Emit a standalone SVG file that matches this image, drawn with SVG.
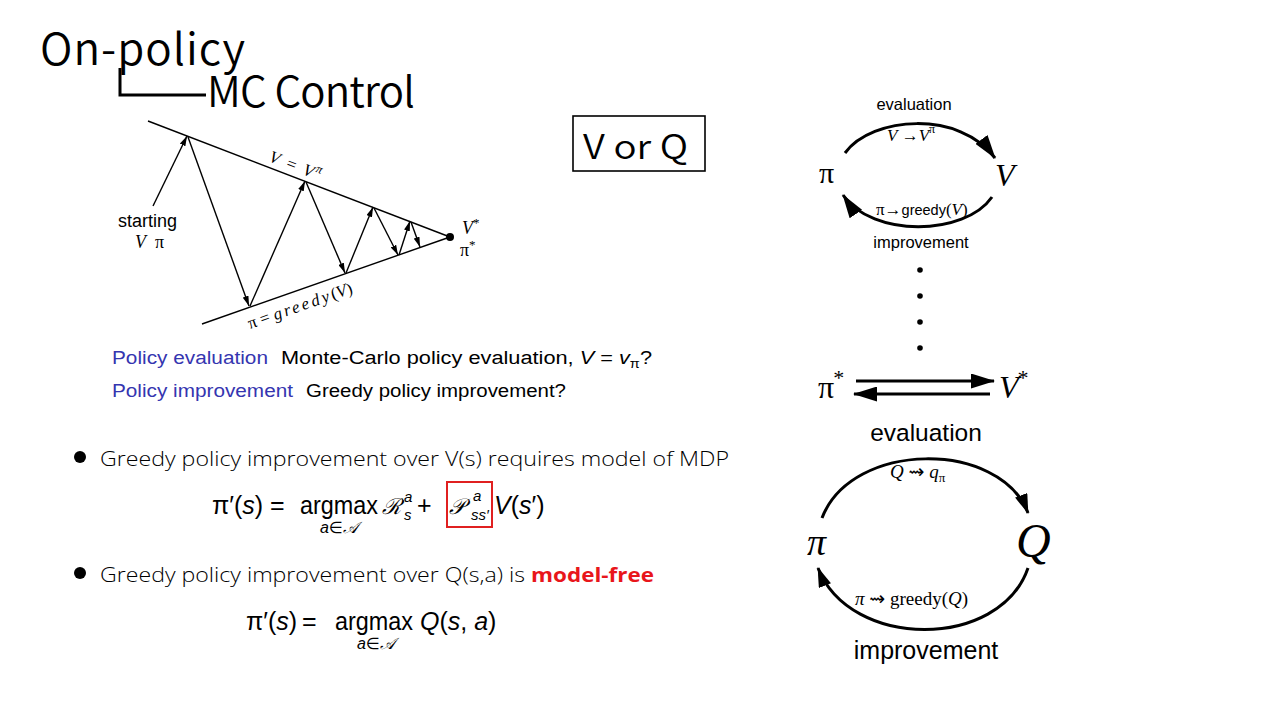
<svg xmlns="http://www.w3.org/2000/svg" width="1280" height="720" viewBox="0 0 1280 720">
  <style>
    .title { font-family: "Noto Sans CJK SC", "Noto Sans", sans-serif; font-weight: 350; fill: #000; }
    .body { font-family: "Open Sans", "Noto Sans", sans-serif; font-weight: 300; fill: #000; font-size: 20px; }
    .cm { font-family: "Liberation Sans", "DejaVu Sans", sans-serif; fill: #000; }
    .blue { fill: #3535B0; }
    .ser { font-family: "Liberation Serif", "DejaVu Serif", serif; fill: #000; }
    .it { font-style: italic; }
    .hel { font-family: "Liberation Sans", Arial, sans-serif; fill: #000; }
    .thin { stroke: #000; stroke-width: 1.4; fill: none; }
    .thick { stroke: #000; stroke-width: 3; fill: none; }
  </style>
  <defs>
    <marker id="ah-sm" viewBox="0 0 10 6" refX="10" refY="3" markerWidth="10" markerHeight="6" markerUnits="userSpaceOnUse" orient="auto">
      <path d="M0,0 L10,3 L0,6 z" fill="#000"/>
    </marker>
    <marker id="ah-lg" viewBox="0 0 24 15" refX="23" refY="7.5" markerWidth="24" markerHeight="15" markerUnits="userSpaceOnUse" orient="auto">
      <path d="M0,0 L24,7.5 L0,15 z" fill="#000"/>
    </marker>
    <marker id="ah-md" viewBox="0 0 20 13" refX="19" refY="6.5" markerWidth="20" markerHeight="13" markerUnits="userSpaceOnUse" orient="auto">
      <path d="M0,0 L20,6.5 L0,13 z" fill="#000"/>
    </marker>
  </defs>

  <rect width="1280" height="720" fill="#fff"/>

  <!-- heading -->
  <g id="heading">
    <text class="title" x="40" y="65" font-size="44" textLength="205" lengthAdjust="spacing">On-policy</text>
    <path d="M120,68 V95 H206" stroke="#000" stroke-width="3" fill="none"/>
    <text class="title" x="207" y="107" font-size="42" textLength="208" lengthAdjust="spacing">MC Control</text>
  </g>

  <!-- convergence triangle -->
  <g id="triangle">
    <line class="thin" x1="148" y1="121" x2="450" y2="237"/>
    <line class="thin" x1="202" y1="324" x2="450" y2="237"/>
    <circle cx="450" cy="237" r="4" fill="#000"/>
    <g class="thin" marker-end="url(#ah-sm)">
      <line x1="153" y1="206" x2="187" y2="136"/>
      <line x1="188" y1="137" x2="249" y2="306"/>
      <line x1="250" y1="306" x2="305" y2="181"/>
      <line x1="306" y1="182" x2="345" y2="273"/>
      <line x1="346" y1="273" x2="373" y2="207"/>
      <line x1="374" y1="208" x2="398" y2="255"/>
      <line x1="399" y1="255" x2="410" y2="221"/>
      <line x1="411" y1="222" x2="420" y2="247"/>
    </g>
    <text class="ser it" x="268" y="161" font-size="17" transform="rotate(21 268 161)" letter-spacing="1.5">V = V<tspan font-size="12" dy="-7">π</tspan></text>
    <text class="ser" x="250" y="329" font-size="17" transform="rotate(-19.3 250 329)">π = <tspan class="it" letter-spacing="2.6">greedy</tspan>(<tspan class="it">V</tspan>)</text>
    <text class="hel" x="118" y="227" font-size="18">starting</text>
    <text class="ser it" x="135" y="248" font-size="18">V</text>
    <text class="ser" x="155" y="248" font-size="18">π</text>
    <text class="ser it" x="462" y="234" font-size="18">V<tspan font-size="13" dy="-7" font-style="normal">*</tspan></text>
    <text class="ser" x="460" y="256" font-size="18">π<tspan font-size="13" dy="-7">*</tspan></text>
  </g>

  <!-- policy evaluation / improvement lines -->
  <g id="policy-steps" font-size="18">
    <text class="cm blue" x="112" y="364" textLength="156" lengthAdjust="spacingAndGlyphs">Policy evaluation</text>
    <text class="cm" x="281" y="364" textLength="371" lengthAdjust="spacingAndGlyphs">Monte-Carlo policy evaluation, <tspan class="it">V</tspan> = <tspan class="it">v</tspan><tspan font-size="12" dy="4">π</tspan><tspan dy="-4">?</tspan></text>
    <text class="cm blue" x="112" y="397" textLength="181" lengthAdjust="spacingAndGlyphs">Policy improvement</text>
    <text class="cm" x="306" y="397" textLength="260" lengthAdjust="spacingAndGlyphs">Greedy policy improvement?</text>
  </g>

  <!-- V or Q box -->
  <g id="v-or-q">
    <rect x="573" y="116" width="132" height="55" fill="#fff" stroke="#000" stroke-width="1.6"/>
    <text class="title" x="583" y="159" font-size="34" textLength="105" lengthAdjust="spacingAndGlyphs">V or Q</text>
  </g>

  <!-- bullet 1 with formula -->
  <g id="bullet-v">
    <circle cx="80" cy="457" r="6" fill="#000"/>
    <text class="body" x="100" y="466" textLength="629" lengthAdjust="spacingAndGlyphs">Greedy policy improvement over V(s) requires model of MDP</text>
    <g class="cm" font-size="25">
      <text x="212" y="514">π′(<tspan class="it">s</tspan>)</text>
      <text x="270" y="514">=</text>
      <text x="300" y="514" textLength="78" lengthAdjust="spacingAndGlyphs">argmax</text>
      <text x="320" y="533" font-size="16"><tspan class="it">a</tspan>∈<tspan class="ser it">𝒜</tspan></text>
      <text class="ser it" x="382" y="514" font-size="22">ℛ</text>
      <text class="it" x="404" y="502" font-size="15">a</text>
      <text class="it" x="404" y="520" font-size="15">s</text>
      <text x="417" y="514">+</text>
      <text class="ser it" x="449" y="514" font-size="22">𝒫</text>
      <text class="it" x="473" y="501" font-size="15">a</text>
      <text class="it" x="471" y="520" font-size="15">ss′</text>
      <text x="494" y="514"><tspan class="it">V</tspan>(<tspan class="it">s</tspan>′)</text>
    </g>
    <rect x="447" y="482" width="45" height="45" fill="none" stroke="#E02020" stroke-width="2"/>
  </g>

  <!-- bullet 2 with formula -->
  <g id="bullet-q">
    <circle cx="80" cy="573" r="6" fill="#000"/>
    <text class="body" x="100" y="582" textLength="425" lengthAdjust="spacingAndGlyphs">Greedy policy improvement over Q(s,a) is</text>
    <text class="body" x="531" y="582" style="fill:#E8161B;font-weight:700" textLength="123" lengthAdjust="spacingAndGlyphs">model-free</text>
    <g class="cm" font-size="25">
      <text x="246" y="630">π′(<tspan class="it">s</tspan>)</text>
      <text x="302" y="630">=</text>
      <text x="335" y="630" textLength="78" lengthAdjust="spacingAndGlyphs">argmax</text>
      <text x="357" y="649" font-size="16"><tspan class="it">a</tspan>∈<tspan class="ser it">𝒜</tspan></text>
      <text x="420" y="630"><tspan class="it">Q</tspan>(<tspan class="it">s</tspan>, <tspan class="it">a</tspan>)</text>
    </g>
  </g>

  <!-- V cycle -->
  <g id="v-cycle">
    <text class="hel" x="914" y="110" font-size="16.5" text-anchor="middle">evaluation</text>
    <text class="ser" x="819" y="183" font-size="30">π</text>
    <text class="ser it" x="995" y="186" font-size="32">V</text>
    <text class="ser" x="887" y="141" font-size="17"><tspan class="it">V</tspan> →<tspan class="it">V</tspan><tspan font-size="12" dy="-8">π</tspan></text>
    <text class="ser" x="876" y="215" font-size="17">π→<tspan class="hel" font-size="14.5">greedy</tspan>(<tspan class="it">V</tspan>)</text>
    <text class="hel" x="921" y="248" font-size="16.5" text-anchor="middle">improvement</text>
  </g>

  <!-- convergence dots -->
  <g id="dots" fill="#000">
    <circle cx="920" cy="270" r="2.8"/>
    <circle cx="920" cy="296" r="2.8"/>
    <circle cx="920" cy="322" r="2.8"/>
    <circle cx="920" cy="348" r="2.8"/>
  </g>

  <!-- optimal pair -->
  <g id="optimal">
    <text class="ser" x="818" y="398" font-size="32">π<tspan font-size="22" dy="-13" dx="-1">*</tspan></text>
    <text class="ser it" x="999" y="398" font-size="32">V<tspan font-size="22" dy="-13" dx="-1" font-style="normal">*</tspan></text>
  </g>

  <!-- Q cycle -->
  <g id="q-cycle">
    <text class="hel" x="926" y="441" font-size="24.5" text-anchor="middle">evaluation</text>
    <text class="ser it" x="807" y="555" font-size="38">π</text>
    <text class="ser it" x="1016" y="557" font-size="48">Q</text>
    <text class="ser" x="890" y="478" font-size="19"><tspan class="it">Q</tspan> <tspan font-family="DejaVu Sans" font-size="19">⇝</tspan> <tspan class="it">q</tspan><tspan font-size="13" dy="4">π</tspan></text>
    <text class="ser" x="855" y="605" font-size="19"><tspan class="it">π</tspan> <tspan font-family="DejaVu Sans" font-size="19">⇝</tspan> greedy(<tspan class="it">Q</tspan>)</text>
    <text class="hel" x="926" y="659" font-size="25" text-anchor="middle">improvement</text>
  </g>

  <!-- connectors -->
  <g id="connectors">
    <path class="thick" d="M845,153 C872,116 960,110 995,158" marker-end="url(#ah-lg)"/>
    <path class="thick" d="M992,197 C965,236 872,238 843,195" marker-end="url(#ah-lg)"/>
    <line class="thick" x1="856" y1="381" x2="994" y2="381" marker-end="url(#ah-lg)"/>
    <line class="thick" x1="990" y1="394" x2="854" y2="394" marker-end="url(#ah-lg)"/>
    <path class="thick" d="M822,518 C852,440 1000,440 1028,513" marker-end="url(#ah-md)"/>
    <path class="thick" d="M1028,568 C1000,650 850,650 818,568" marker-end="url(#ah-md)"/>
  </g>
</svg>
